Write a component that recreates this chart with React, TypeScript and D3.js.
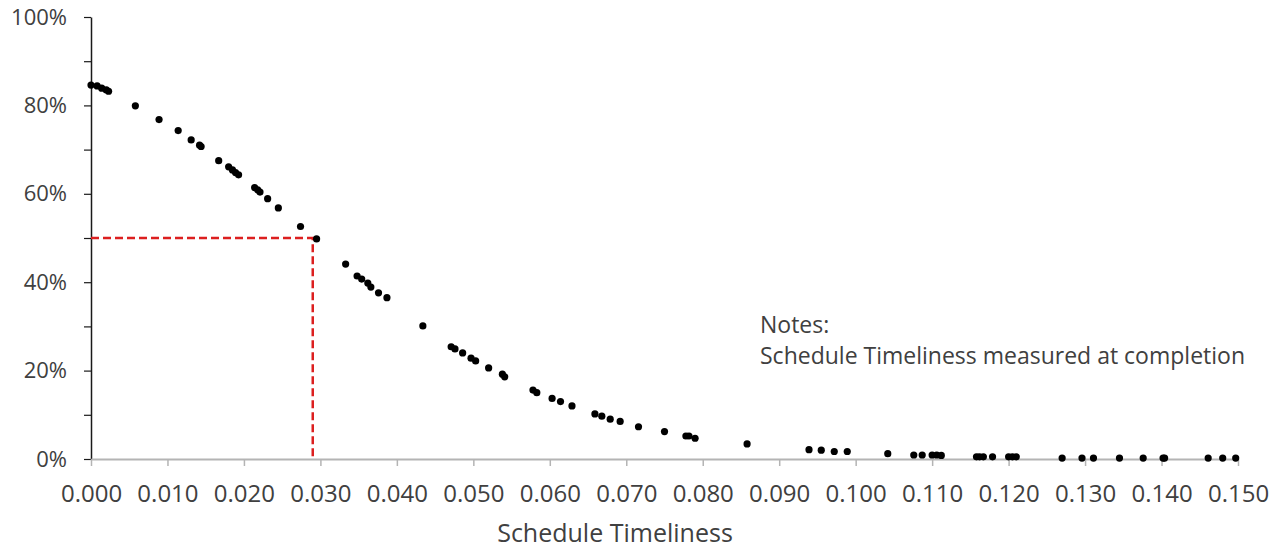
import React, { useRef, useEffect } from 'react';
import * as d3 from 'd3';

// schedule timeliness (x) and cumulative share (y)
const timeliness = [
  0.0000, 0.0008, 0.0014, 0.0020, 0.0023, 0.0058, 0.0089, 0.0114, 0.0131, 0.0142,
  0.0144, 0.0167, 0.0180, 0.0185, 0.0189, 0.0193, 0.0214, 0.0218, 0.0221, 0.0231,
  0.0245, 0.0274, 0.0295, 0.0333, 0.0348, 0.0354, 0.0362, 0.0366, 0.0376, 0.0387,
  0.0434, 0.0471, 0.0476, 0.0486, 0.0497, 0.0503, 0.0520, 0.0538, 0.0541, 0.0578,
  0.0583, 0.0603, 0.0614, 0.0629, 0.0659, 0.0668, 0.0679, 0.0692, 0.0716, 0.0750,
  0.0778, 0.0782, 0.0790, 0.0858, 0.0939, 0.0955, 0.0972, 0.0989, 0.1042, 0.1076,
  0.1087, 0.1100, 0.1106, 0.1112, 0.1158, 0.1162, 0.1167, 0.1179, 0.1200, 0.1205,
  0.1210, 0.1270, 0.1296, 0.1311, 0.1345, 0.1376, 0.1402, 0.1404, 0.1461, 0.1480,
  0.1497,
];
const share = [
  0.846, 0.844, 0.839, 0.835, 0.832, 0.799, 0.768, 0.743, 0.722, 0.710,
  0.707, 0.675, 0.661, 0.654, 0.648, 0.643, 0.614, 0.609, 0.604, 0.589,
  0.568, 0.526, 0.498, 0.441, 0.414, 0.407, 0.398, 0.389, 0.376, 0.365,
  0.301, 0.254, 0.249, 0.240, 0.228, 0.222, 0.206, 0.192, 0.186, 0.156,
  0.150, 0.137, 0.130, 0.120, 0.102, 0.097, 0.090, 0.085, 0.073, 0.062,
  0.052, 0.052, 0.047, 0.034, 0.021, 0.020, 0.017, 0.017, 0.012, 0.009,
  0.009, 0.009, 0.009, 0.008, 0.005, 0.005, 0.005, 0.005, 0.005, 0.005,
  0.005, 0.002, 0.002, 0.002, 0.002, 0.002, 0.002, 0.002, 0.002, 0.002,
  0.002,
];

const xTicks = d3.range(0, 16).map(i => i / 100);
const yTicks = d3.range(0, 11).map(i => i / 10);
const marker = { x: 0.029, y: 0.5 };
const xTitle = 'Schedule Timeliness';
const notes = ['Notes:', 'Schedule Timeliness measured at completion'];

const FONT = '"Open Sans", sans-serif';
const TEXT = '#404040';

export default function App() {
  const svgRef = useRef<SVGSVGElement>(null);

  useEffect(() => {
    const svg = d3.select(svgRef.current);
    svg.selectAll('*').remove();

    const x = d3.scaleLinear().domain([0, 0.15]).range([91, 1238]);
    const y = d3.scaleLinear().domain([0, 1]).range([459, 17]);

    // y axis: black line, ticks every 10%, labels every 20%
    const yAxis = d3.axisLeft(y)
      .tickValues(yTicks)
      .tickSize(7)
      .tickSizeOuter(0)
      .tickPadding(17)
      .tickFormat((d: any) => (Math.round(d * 10) % 2 === 0 ? d3.format('.0%')(d) : ''));
    const gy = svg.append('g').attr('transform', `translate(${x(0)},0)`).call(yAxis);
    gy.select('.domain').attr('stroke', '#1a1a1a').attr('stroke-width', 1.5);
    gy.selectAll('.tick line').attr('stroke', '#1a1a1a').attr('stroke-width', 1.2);
    gy.selectAll('.tick text')
      .attr('font-family', FONT).attr('font-size', 22).attr('fill', TEXT);

    // x axis: gray line with ticks below
    const xAxis = d3.axisBottom(x)
      .tickValues(xTicks)
      .tickSize(7)
      .tickSizeOuter(0)
      .tickPadding(19)
      .tickFormat((d: any) => d3.format('.3f')(d));
    const gx = svg.append('g').attr('transform', `translate(0,${y(0)})`).call(xAxis);
    gx.select('.domain').attr('stroke', '#b4b4b4').attr('stroke-width', 2);
    gx.selectAll('.tick line').attr('stroke', '#b4b4b4').attr('stroke-width', 1.5);
    gx.selectAll('.tick text')
      .attr('font-family', FONT).attr('font-size', 24).attr('fill', TEXT);

    // red dashed guide to 50%
    svg.append('path')
      .attr('d', d3.line()([
        [x(0), y(marker.y)],
        [x(marker.x), y(marker.y)],
        [x(marker.x), y(0)],
      ]))
      .attr('fill', 'none')
      .attr('stroke', '#dc1f1f')
      .attr('stroke-width', 2.5)
      .attr('stroke-dasharray', '8,4');

    svg.append('g')
      .selectAll('circle')
      .data(timeliness.map((t, i) => [t, share[i]]))
      .join('circle')
      .attr('cx', d => x(d[0]))
      .attr('cy', d => y(d[1]))
      .attr('r', 3.6)
      .attr('fill', '#000');

    svg.append('text')
      .attr('x', 615).attr('y', 542)
      .attr('text-anchor', 'middle')
      .attr('font-family', FONT).attr('font-size', 25).attr('fill', TEXT)
      .text(xTitle);

    svg.append('g')
      .selectAll('text')
      .data(notes)
      .join('text')
      .attr('x', 760)
      .attr('y', (d, i) => 333 + i * 31)
      .attr('font-family', FONT).attr('font-size', 23).attr('fill', TEXT)
      .text(d => d);
  }, []);

  return (
    <div style={{ position: 'absolute', left: 0, top: 0 }}>
      <svg ref={svgRef} width={1284} height={550} style={{ display: 'block', background: '#fff' }} />
    </div>
  );
}
